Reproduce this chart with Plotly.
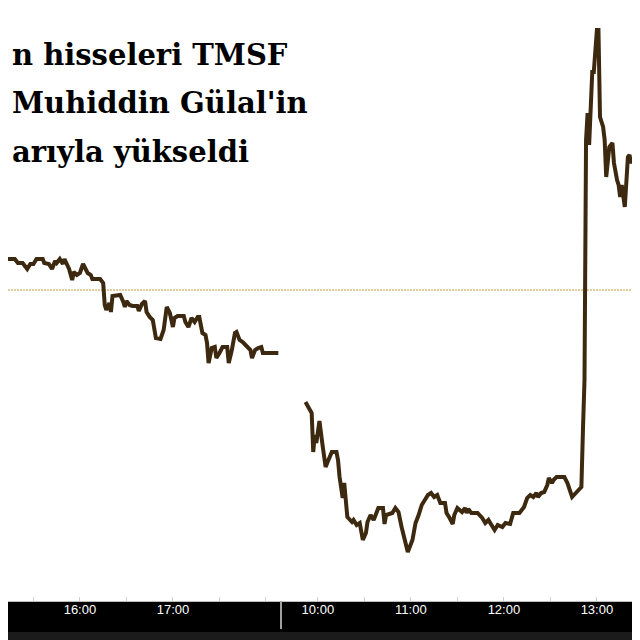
import plotly.graph_objects as go

# ---------------- data ----------------
day1_times = ["15:05","15:08","15:18","15:20","15:23","15:26","15:28","15:30","15:32","15:36",
              "15:37","15:40","15:42","15:44","15:45","15:47","15:49","15:50","15:52","15:53",
              "15:55","15:56","15:58","16:00","16:02","16:03","16:05","16:07","16:08","16:13",
              "16:15","16:16","16:17","16:19","16:20","16:21","16:25","16:26","16:28","16:29",
              "16:30","16:32","16:34","16:37","16:38","16:40","16:42","16:43","16:45","16:47",
              "16:49","16:52","16:54","16:56","16:58","17:00","17:01","17:03","17:07","17:08",
              "17:10","17:12","17:14","17:16","17:17","17:19","17:21","17:22","17:23","17:25",
              "17:27","17:28","17:30","17:32","17:35","17:36","17:38","17:40","17:41","17:43",
              "17:45","17:48","17:50","17:51","17:53","17:55","17:57","17:58","18:08"]
day1_prices = [5.062,5.062,5.062,5.054,5.054,5.042,5.052,5.052,5.062,5.062,
               5.054,5.052,5.042,5.058,5.054,5.062,5.052,5.062,5.046,5.042,
               5.020,5.036,5.030,5.034,5.052,5.046,5.034,5.030,5.022,5.022,
               5.014,4.970,4.960,4.974,4.956,4.988,4.990,4.990,4.976,4.966,
               4.978,4.970,4.968,4.968,4.958,4.972,4.978,4.956,4.946,4.940,
               4.904,4.902,4.920,4.966,4.954,4.926,4.944,4.948,4.948,4.936,
               4.926,4.944,4.936,4.946,4.946,4.914,4.910,4.894,4.854,4.884,
               4.886,4.864,4.874,4.886,4.886,4.854,4.880,4.914,4.916,4.900,
               4.896,4.886,4.880,4.864,4.880,4.884,4.886,4.874,4.874]

day2_times = ["09:52","09:56","09:57","09:58","09:59","10:01","10:03","10:05","10:06","10:09",
              "10:12","10:13","10:14","10:16","10:17","10:18","10:19","10:22","10:23","10:25",
              "10:27","10:29","10:31","10:32","10:34","10:36","10:38","10:39","10:42","10:43",
              "10:44","10:48","10:50","10:52","10:54","10:56","10:58","11:01","11:03","11:05",
              "11:07","11:09","11:11","11:13","11:15","11:17","11:19","11:22","11:23","11:25",
              "11:27","11:28","11:30","11:33","11:35","11:36","11:37","11:39","11:43","11:46",
              "11:48","11:50","11:52","11:54","11:56","11:59","12:01","12:04","12:06","12:10",
              "12:13","12:15","12:17","12:19","12:21","12:22","12:24","12:26","12:28","12:29",
              "12:31","12:32","12:34","12:39","12:41","12:43","12:44","12:47","12:50","12:51",
              "12:52","12:53","12:54","12:55","12:56","12:57","12:58","13:00","13:01","13:02",
              "13:04","13:05","13:06","13:08","13:10","13:11","13:13","13:14","13:15","13:16",
              "13:18","13:19","13:20","13:21","13:22","13:23","13:26"]
day2_prices = [4.776,4.754,4.676,4.710,4.694,4.738,4.690,4.646,4.654,4.676,
               4.676,4.660,4.626,4.584,4.614,4.586,4.546,4.536,4.540,4.530,
               4.534,4.500,4.514,4.536,4.550,4.540,4.554,4.564,4.564,4.532,
               4.550,4.554,4.564,4.556,4.526,4.500,4.476,4.500,4.534,4.550,
               4.570,4.580,4.590,4.594,4.586,4.590,4.574,4.574,4.554,4.544,
               4.532,4.550,4.564,4.556,4.564,4.554,4.562,4.554,4.554,4.544,
               4.534,4.540,4.528,4.520,4.530,4.526,4.534,4.532,4.554,4.554,
               4.566,4.584,4.590,4.586,4.594,4.586,4.594,4.596,4.610,4.624,
               4.614,4.620,4.626,4.626,4.614,4.594,4.586,4.596,4.606,4.720,
               4.820,5.300,5.354,5.290,5.354,5.436,5.436,5.520,5.520,5.346,
               5.326,5.300,5.226,5.286,5.294,5.254,5.220,5.210,5.186,5.210,
               5.166,5.210,5.266,5.270,5.254,5.260,5.260]

prev_close = 5.00
day1_tick_labels = ["16:00", "17:00"]
day2_tick_labels = ["10:00", "11:00", "12:00", "13:00"]
day1_minor_ticks = ["15:30", "16:30", "17:30", "18:00"]
day2_minor_ticks = ["10:30", "11:30", "12:30"]
title_lines = ["n hisseleri TMSF", "Muhiddin Gülal'in", "arıyla yükseldi"]

# ---------------- helpers ----------------
DAY2_SHIFT = 513.5   # compresses the overnight gap on the axis


def to_min(t):
    h, m = t.split(":")
    return int(h) * 60 + int(m)


def pos1(t):
    return to_min(t)


def pos2(t):
    return to_min(t) + DAY2_SHIFT


FIG_W, FIG_H = 632, 632
PLOT_H = 593
line_color = "#3c2910"

fig = go.Figure()
fig.add_trace(go.Scatter(x=[pos1(t) for t in day1_times], y=day1_prices, mode="lines",
                         line=dict(color=line_color, width=4), showlegend=False))
fig.add_trace(go.Scatter(x=[pos2(t) for t in day2_times], y=day2_prices, mode="lines",
                         line=dict(color=line_color, width=4), showlegend=False))

# previous close dotted line
fig.add_hline(y=prev_close, line=dict(color="#c99a35", width=1, dash="2px,1px"), layer="below")

tickvals = [pos1(t) for t in day1_tick_labels] + [pos2(t) for t in day2_tick_labels]
ticktext = day1_tick_labels + day2_tick_labels
minorvals = [pos1(t) for t in day1_minor_ticks] + [pos2(t) for t in day2_minor_ticks]

fig.update_xaxes(range=[913.6, 1321.3], tickmode="array", tickvals=tickvals, ticktext=ticktext,
                 showgrid=False, zeroline=False, showline=True, linecolor="#bdbdbd", linewidth=1,
                 ticks="inside", ticklen=4, tickcolor="#cfcfcf", tickwidth=1,
                 ticklabelstandoff=-4,
                 tickfont=dict(family="Liberation Sans", size=13, color="white"),
                 minor=dict(tickmode="array", tickvals=minorvals, ticks="inside", ticklen=4,
                            tickcolor="#cfcfcf", tickwidth=1, showgrid=False),
                 fixedrange=True)
fig.update_yaxes(range=[4.378, 5.564], visible=False, fixedrange=True)

# session separator
sep_x = 1089.7
fig.add_shape(type="line", xref="x", yref="paper", x0=sep_x, x1=sep_x, y0=0, y1=-28 / PLOT_H,
              line=dict(color="#a0a0a0", width=2), layer="above")
# bottom darker strip
fig.add_shape(type="rect", xref="paper", yref="paper", x0=0, x1=1, y0=-31 / PLOT_H,
              y1=-40 / PLOT_H, fillcolor="#1b1b1b", line=dict(width=0), layer="below")

# title (left-aligned at the page edge)
title_base = [65, 113, 162]
for txt, yb in zip(title_lines, title_base):
    fig.add_annotation(text="<b>" + txt + "</b>", xref="paper", yref="paper",
                       x=2 / FIG_W, y=1 - (yb - 18) / PLOT_H,
                       xanchor="left", yanchor="middle", showarrow=False,
                       font=dict(family="DejaVu Serif", size=29, color="black"))

fig.update_layout(width=FIG_W, height=FIG_H, margin=dict(l=0, r=0, t=0, b=FIG_H - PLOT_H, pad=0),
                  paper_bgcolor="black", plot_bgcolor="white")

fig.write_html("out.html", config={"displayModeBar": False})
